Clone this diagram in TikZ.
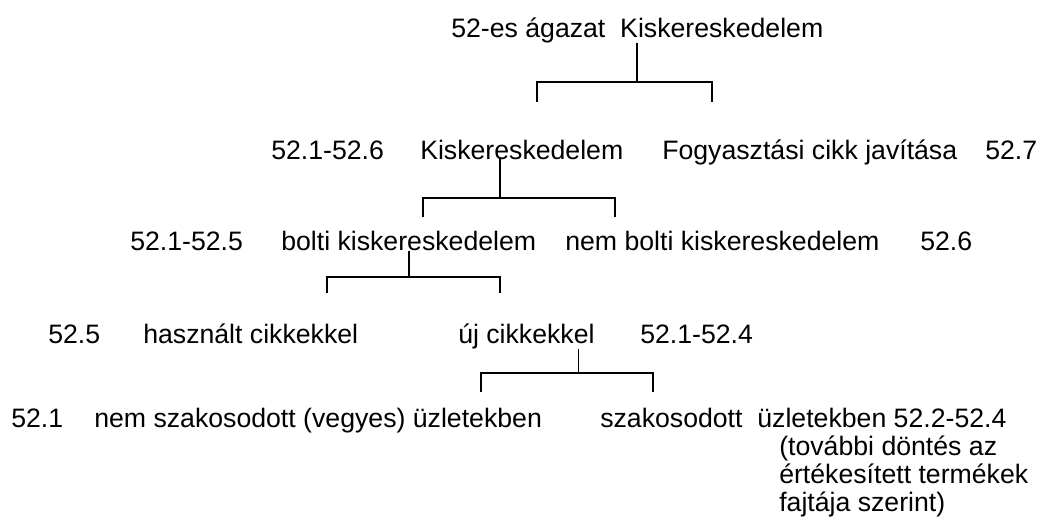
\documentclass[tikz,border=0pt]{standalone}
\usepackage{fontspec}
\setmainfont{Liberation Sans}
\usetikzlibrary{positioning}
\tikzset{mylabel/.style = {inner sep=0pt, anchor=base west, font=\fontsize{20}{24}\selectfont},
	mybranch/.style = {draw, line width=1.4pt}}
\NewDocumentCommand{\fbranch}{m m m O{20}}{%
	\draw[mybranch] (#2) -- ++(0,-#4) coordinate (bar) -| (#3);
	\draw[mybranch] (#1) -- (#1 |- bar);
}

\begin{document}
\begin{tikzpicture}[x=0.75pt, y=-0.75pt]
\useasboundingbox (0,0) rectangle (1045,529);
\node[mylabel] (root) at (451,37) {52-es ágazat\ \ Kiskereskedelem};

\node[mylabel] (c526) at (271,159) {52.1-52.6};
\node[mylabel] (kisk) at (420,159) {Kiskereskedelem};
\node[mylabel] (fogy) at (662,159) {Fogyasztási cikk javítása};
\node[mylabel] (c527) at (985,159) {52.7};

\node[mylabel] (c525) at (130,250) {52.1-52.5};
\node[mylabel] (bolti) at (281,250) {bolti kiskereskedelem};
\node[mylabel] (nembolti) at (565,250) {nem bolti kiskereskedelem};
\node[mylabel] (c52six) at (920,250) {52.6};

\node[mylabel] (c52five) at (48,343) {52.5};
\node[mylabel] (hasznalt) at (143,343) {használt cikkekkel};
\node[mylabel] (uj) at (458,343) {új cikkekkel};
\node[mylabel] (c524) at (640,343) {52.1-52.4};

\node[mylabel] (c521) at (11,427) {52.1};
\node[mylabel] (vegyes) at (94,427) {nem szakosodott (vegyes) üzletekben};
\node[mylabel] (szak) at (600,427) {szakosodott\ \ üzletekben 52.2-52.4};
\node[mylabel] (note1) at (779,455) {(további döntés az};
\node[mylabel] (note2) at ([yshift=-21pt]note1.base west) {értékesített termékek};
\node[mylabel] (note3) at ([yshift=-21pt]note2.base west) {fajtája szerint)};

\coordinate (t2) at ([xshift=-16.5pt, yshift=1.5pt]kisk.base);
\coordinate (t4) at ([xshift=39pt]uj.south);
\coordinate (l1) at (537,102);
\coordinate (r1) at (712,102);
\coordinate (l2) at (423,217);
\coordinate (r2) at (615,217);
\coordinate (l3) at (327,293);
\coordinate (r3) at (500,293);
\coordinate (l4) at (481,392);
\coordinate (r4) at (653,392);

\fbranch{root.south}{l1}{r1}
\fbranch{t2}{l2}{r2}[19]
\fbranch{bolti.south}{l3}{r3}[16]
\fbranch{t4}{l4}{r4}[19]
\end{tikzpicture}
\end{document}
